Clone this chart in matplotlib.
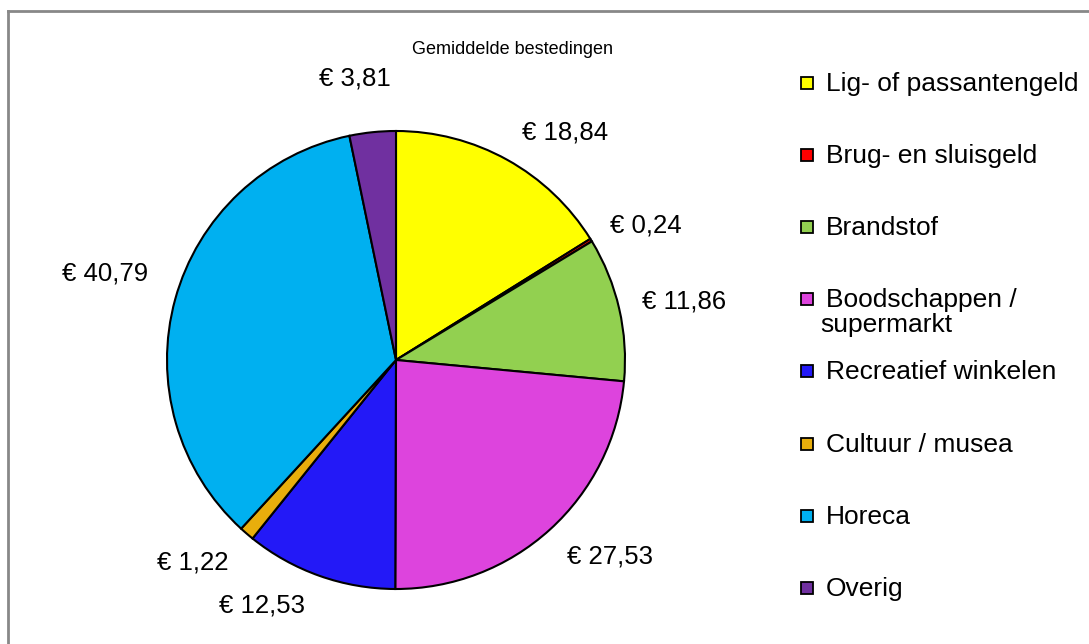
import numpy as np
import matplotlib
matplotlib.use("Agg")
import matplotlib.pyplot as plt
from matplotlib.patches import Rectangle
from matplotlib.lines import Line2D

plt.rcParams['font.family'] = ['Liberation Sans', 'DejaVu Sans']

# data
categories = ["Lig- of passantengeld", "Brug- en sluisgeld", "Brandstof",
              "Boodschappen /\nsupermarkt", "Recreatief winkelen",
              "Cultuur / musea", "Horeca", "Overig"]
values = [18.84, 0.24, 11.86, 27.53, 12.53, 1.22, 40.79, 3.81]
colors = ["#FFFF00", "#FF0000", "#92D050", "#DD44DD",
          "#2319F7", "#E8AE0C", "#00B0F0", "#7030A0"]
title = "Gemiddelde bestedingen"

# label nudges in pixels (x right, y down), Excel moved a few labels
label_nudge = [(30, 23), (6, 15), (9, 6), (22, -15),
               (-38, -24), (-17, -15), (-15, -10), (-12, 3)]

W, H = 1089, 644
fig = plt.figure(figsize=(W / 100, H / 100), dpi=100)

# grey frame (only top and left edge visible in the crop)
fig.add_artist(Line2D([8 / W, 8 / W], [0, 1 - 11 / H], color="#888888", lw=2))
fig.add_artist(Line2D([8 / W, 1], [1 - 11 / H, 1 - 11 / H], color="#888888", lw=2))

# pie axes: centre (396, 360) px, radius 229 px
cx, cy, r = 396, 360, 229
ax = fig.add_axes([(cx - r) / W, 1 - (cy + r) / H, 2 * r / W, 2 * r / H])
labels = ["€ " + f"{v:.2f}".replace(".", ",") for v in values]
wedges, texts = ax.pie(values, colors=colors, startangle=90, counterclock=False,
                       labels=labels, labeldistance=1.25,
                       wedgeprops=dict(edgecolor="black", linewidth=1.5),
                       textprops=dict(fontsize=18.5))
for t, (nx, ny) in zip(texts, label_nudge):
    x, y = t.get_position()
    t.set_position((x + nx / r, y - ny / r))
    t.set_horizontalalignment("center")
    t.set_verticalalignment("center")
ax.set_xlim(-1, 1)
ax.set_ylim(-1, 1)
ax.set_aspect("equal")
ax.axis("off")

fig.text(512 / W, 1 - 49 / H, title, ha="center", va="center", fontsize=13)

# legend drawn by hand
y0, dy = 83, 72.1
sq = 12
for i, (lab, col) in enumerate(zip(categories, colors)):
    y = y0 + i * dy
    fig.add_artist(Rectangle((801 / W, 1 - (y + sq / 2) / H), sq / W, sq / H,
                             facecolor=col, edgecolor="black", lw=1.3,
                             transform=fig.transFigure))
    for k, line in enumerate(lab.split("\n")):
        xt = 826 if k == 0 else 820
        fig.text(xt / W, 1 - (y + 8 + k * 25) / H, line, ha="left",
                 va="baseline", fontsize=19)

fig.savefig("out.png", dpi=100, facecolor="white")
